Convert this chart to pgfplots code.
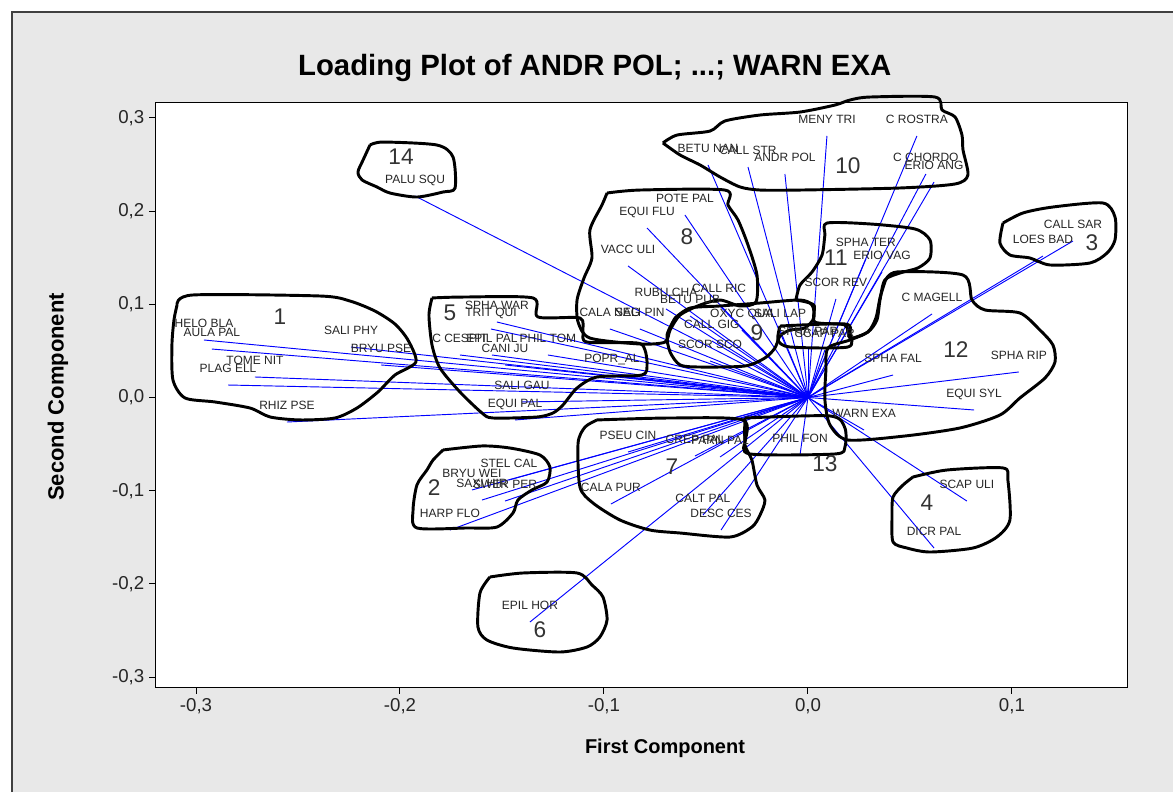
\documentclass[border=0pt]{standalone}
\usepackage{pgfplots}
\pgfplotsset{compat=1.18}
\usepackage{pgfplotstable}
\usepackage{fontspec}
\setmainfont{Liberation Sans}
\definecolor{figbg}{RGB}{232,232,232}
\definecolor{vecblue}{RGB}{0,0,255}
\pgfplotsset{outline/.style={black, solid, line width=2.2pt, smooth, tension=0.45, line join=round, mark=none}}
\pgfplotstableread[col sep=comma]{
x,y,label
-0.2961,0.0617,HELO BLA
-0.2922,0.0520,AULA PAL
-0.2240,0.0542,SALI PHY
-0.2093,0.0349,BRYU PSE
-0.2711,0.0220,TOME NIT
-0.2843,0.0134,PLAG ELL
-0.2554,-0.0263,RHIZ PSE
-0.1525,0.0810,SPHA WAR
-0.1554,0.0735,TRIT QUI
-0.1706,0.0456,C CESPIT
-0.1549,0.0456,EPIL PAL
-0.1275,0.0456,PHIL TOM
-0.1485,0.0349,CANI JU
-0.0961,0.0241,POPR\_AL
-0.1402,-0.0048,SALI GAU
-0.1436,-0.0241,EQUI PAL
-0.0603,0.1958,POTE PAL
-0.0789,0.1819,EQUI FLU
-0.0882,0.1411,VACC ULI
-0.0696,0.0950,RUBU CHA
-0.0436,0.0992,CALL RIC
-0.0578,0.0874,BETU PUB
-0.0971,0.0735,CALA NEG
-0.0824,0.0735,SALI PIN
-0.0471,0.0606,CALL GIG
-0.0480,0.0392,SCOR SCO
-0.0324,0.0724,OXYC QUA
-0.0137,0.0724,SALI LAP
0.0000,0.0531,SPHA PAP
0.0083,0.0510,SCAP PAR
-0.0490,0.2495,BETU NAN
-0.0294,0.2473,CALL STR
-0.0113,0.2398,ANDR POL
0.0093,0.2806,MENY TRI
0.0534,0.2806,C ROSTRA
0.0578,0.2398,C CHORDO
0.0618,0.2312,ERIO ANG
0.1299,0.1679,CALL SAR
0.1152,0.1518,LOES BAD
0.0284,0.1486,SPHA TER
0.0363,0.1347,ERIO VAG
0.0137,0.1057,SCOR REV
0.0608,0.0896,C MAGELL
0.0417,0.0241,SPHA FAL
0.1034,0.0274,SPHA RIP
0.0814,-0.0134,EQUI SYL
0.0275,-0.0349,WARN EXA
-0.1466,-0.0885,STEL CAL
-0.1647,-0.0992,BRYU WEI
-0.1598,-0.1100,SAXI HIR
-0.1485,-0.1111,SWER PER
-0.1755,-0.1422,HARP FLO
-0.0882,-0.0585,PSEU CIN
-0.0554,-0.0628,CREP PAL
-0.0431,-0.0638,PARN PAL
-0.0039,-0.0617,PHIL FON
-0.0966,-0.1143,CALA PUR
-0.0515,-0.1261,CALT PAL
-0.0426,-0.1422,DESC CES
0.0779,-0.1111,SCAP ULI
0.0618,-0.1615,DICR PAL
-0.1926,0.2162,PALU SQU
-0.1363,-0.2409,EPIL HOR
}\loadings
\pgfplotstableread[col sep=comma]{
x,y,n
-0.2588,0.0864,1
-0.1833,-0.0971,2
0.1392,0.1658,3
0.0583,-0.1132,4
-0.1755,0.0907,5
-0.1314,-0.2495,6
-0.0667,-0.0746,7
-0.0593,0.1722,8
-0.0250,0.0692,9
0.0196,0.2484,10
0.0137,0.1497,11
0.0725,0.0510,12
0.0083,-0.0714,13
-0.1995,0.2580,14
}\groupnums
\begin{document}
\begin{tikzpicture}
\path[use as bounding box] (0,0) rectangle (879.75pt,594pt);
\fill[white] (0,0) rectangle (879.75pt,594pt);
\fill[figbg] (9pt,0) rectangle (879.75pt,585pt);
\draw[black!75, line width=1pt] (9pt,0) -- (9pt,585pt) -- (879.75pt,585pt);
\node[font=\bfseries\fontsize{22}{22}\selectfont] at (446pt,543pt) {Loading Plot of ANDR POL; ...; WARN EXA};
\node[font=\bfseries\fontsize{15}{15}\selectfont] at (498.75pt,33pt) {First Component};
\node[font=\bfseries\fontsize{16.5}{16.5}\selectfont, rotate=90] at (43.5pt,296.25pt) {Second Component};
\begin{axis}[
  at={(116.25pt,78pt)}, anchor=south west, scale only axis,
  width=729pt, height=438.75pt,
  xmin=-0.3201, xmax=0.1564, ymin=-0.3117, ymax=0.3160,
  xtick={-0.3,-0.2,-0.1,0,0.1}, ytick={-0.3,-0.2,-0.1,0,0.1,0.2,0.3},
  xtick pos=bottom, ytick pos=left, tick align=outside,
  major tick length=4.5pt,
  tick style={black, line width=0.75pt},
  axis line style={black, line width=0.75pt},
  axis background/.style={fill=white},
  scaled ticks=false,
  /pgf/number format/fixed, /pgf/number format/fixed zerofill,
  /pgf/number format/precision=1, /pgf/number format/use comma,
  /pgf/number format/assume math mode=true,
  tick label style={font=\fontsize{14}{14}\selectfont, text=black!85},
  clip=false,
]
\addplot[vecblue, line width=0.7pt, quiver={u=\thisrow{x}, v=\thisrow{y}}] table[x expr=0, y expr=0] {\loadings};
% group outlines
% 1
\addplot[outline] coordinates {(-0.3093,0.0992) (-0.3015,0.1100) (-0.2392,0.1089) (-0.2245,0.1035) (-0.2123,0.0928) (-0.2025,0.0789) (-0.1961,0.0617) (-0.1922,0.0381) (-0.2025,0.0241) (-0.2108,0.0059) (-0.2211,-0.0113) (-0.2319,-0.0220) (-0.2490,-0.0241) (-0.2637,-0.0209) (-0.2735,-0.0113) (-0.2907,-0.0048) (-0.3054,-0.0005) (-0.3113,0.0188) (-0.3118,0.0563) (-0.3108,0.0832) (-0.3093,0.0992)};
% 5
\addplot[outline] coordinates {(-0.1843,0.1068) (-0.1691,0.1078) (-0.1348,0.1068) (-0.1324,0.0864) (-0.1118,0.0853) (-0.1103,0.0703) (-0.1083,0.0595) (-0.0838,0.0585) (-0.0799,0.0510) (-0.0789,0.0349) (-0.0814,0.0241) (-0.1034,0.0220) (-0.1132,0.0102) (-0.1201,-0.0080) (-0.1250,-0.0166) (-0.1328,-0.0209) (-0.1544,-0.0220) (-0.1598,-0.0166) (-0.1706,0.0059) (-0.1804,0.0317) (-0.1843,0.0563) (-0.1858,0.0885) (-0.1843,0.1068)};
% 8
\addplot[outline] coordinates {(-0.0985,0.2194) (-0.0824,0.2226) (-0.0407,0.2226) (-0.0392,0.2065) (-0.0343,0.1905) (-0.0294,0.1636) (-0.0250,0.1314) (-0.0255,0.1025) (-0.0333,0.0982) (-0.0431,0.1046) (-0.0529,0.0992) (-0.0627,0.0885) (-0.0676,0.0724) (-0.0701,0.0595) (-0.0824,0.0574) (-0.1069,0.0638) (-0.1127,0.0810) (-0.1132,0.1046) (-0.1098,0.1282) (-0.1059,0.1497) (-0.1069,0.1797) (-0.1010,0.2065) (-0.0985,0.2194)};
% 9
\addplot[outline] coordinates {(-0.0652,0.0853) (-0.0578,0.0960) (-0.0431,0.0982) (-0.0235,0.1014) (-0.0039,0.1046) (0.0020,0.0992) (0.0029,0.0853) (-0.0015,0.0746) (-0.0088,0.0724) (-0.0137,0.0660) (-0.0162,0.0531) (-0.0211,0.0424) (-0.0309,0.0338) (-0.0529,0.0327) (-0.0627,0.0349) (-0.0676,0.0488) (-0.0691,0.0671) (-0.0652,0.0853)};
% 9b box
\addplot[outline] coordinates {(-0.0137,0.0767) (0.0181,0.0789) (0.0206,0.0692) (0.0196,0.0542) (-0.0088,0.0542) (-0.0147,0.0617) (-0.0137,0.0767)};
% 11
\addplot[outline] coordinates {(-0.0059,0.1046) (-0.0039,0.1207) (0.0020,0.1347) (0.0069,0.1529) (0.0083,0.1744) (0.0093,0.1872) (0.0304,0.1862) (0.0525,0.1808) (0.0598,0.1690) (0.0598,0.1497) (0.0539,0.1390) (0.0451,0.1336) (0.0377,0.1261) (0.0353,0.1046) (0.0338,0.0832) (0.0294,0.0703) (0.0206,0.0638) (0.0181,0.0778) (0.0034,0.0810) (0.0029,0.0992) (-0.0059,0.1046)};
% 12
\addplot[outline] coordinates {(0.0377,0.1239) (0.0436,0.1347) (0.0760,0.1314) (0.0804,0.1046) (0.0868,0.0939) (0.1039,0.0907) (0.1137,0.0724) (0.1201,0.0563) (0.1211,0.0381) (0.1162,0.0209) (0.1039,-0.0005) (0.0941,-0.0188) (0.0745,-0.0327) (0.0475,-0.0413) (0.0196,-0.0456) (0.0108,-0.0295) (0.0083,-0.0027) (0.0088,0.0295) (0.0098,0.0531) (0.0206,0.0617) (0.0294,0.0703) (0.0333,0.0853) (0.0353,0.1068) (0.0377,0.1239)};
% 13
\addplot[outline] coordinates {(-0.0309,-0.0220) (0.0108,-0.0198) (0.0181,-0.0327) (0.0181,-0.0531) (0.0132,-0.0606) (-0.0284,-0.0606) (-0.0309,-0.0456) (-0.0309,-0.0220)};
% 7
\addplot[outline] coordinates {(-0.1034,-0.0241) (-0.0676,-0.0220) (-0.0319,-0.0241) (-0.0309,-0.0510) (-0.0275,-0.0671) (-0.0250,-0.0939) (-0.0211,-0.1100) (-0.0235,-0.1261) (-0.0275,-0.1390) (-0.0382,-0.1497) (-0.0627,-0.1454) (-0.0775,-0.1422) (-0.0922,-0.1314) (-0.1054,-0.1132) (-0.1118,-0.0960) (-0.1127,-0.0488) (-0.1093,-0.0317) (-0.1034,-0.0241)};
% 2
\addplot[outline] coordinates {(-0.1789,-0.0563) (-0.1598,-0.0520) (-0.1461,-0.0542) (-0.1314,-0.0617) (-0.1265,-0.0746) (-0.1279,-0.0907) (-0.1353,-0.0992) (-0.1422,-0.1100) (-0.1446,-0.1239) (-0.1525,-0.1390) (-0.1672,-0.1400) (-0.1917,-0.1400) (-0.1936,-0.1207) (-0.1917,-0.0939) (-0.1868,-0.0778) (-0.1838,-0.0671) (-0.1789,-0.0563)};
% 4
\addplot[outline] coordinates {(0.0515,-0.0853) (0.0681,-0.0778) (0.0956,-0.0756) (0.0980,-0.0885) (0.0990,-0.1314) (0.0926,-0.1497) (0.0809,-0.1615) (0.0598,-0.1658) (0.0485,-0.1615) (0.0417,-0.1550) (0.0412,-0.1282) (0.0417,-0.1068) (0.0466,-0.0939) (0.0515,-0.0853)};
% 6
\addplot[outline] coordinates {(-0.1559,-0.1926) (-0.1397,-0.1883) (-0.1132,-0.1883) (-0.1059,-0.2012) (-0.1005,-0.2141) (-0.0985,-0.2387) (-0.1020,-0.2570) (-0.1083,-0.2677) (-0.1216,-0.2731) (-0.1446,-0.2688) (-0.1574,-0.2602) (-0.1618,-0.2462) (-0.1608,-0.2098) (-0.1559,-0.1926)};
% 14
\addplot[outline] coordinates {(-0.2147,0.2709) (-0.2083,0.2741) (-0.1819,0.2709) (-0.1740,0.2580) (-0.1730,0.2248) (-0.1789,0.2205) (-0.1917,0.2151) (-0.2049,0.2194) (-0.2113,0.2259) (-0.2186,0.2334) (-0.2206,0.2420) (-0.2181,0.2548) (-0.2147,0.2709)};
% 3
\addplot[outline] coordinates {(0.0956,0.1872) (0.1054,0.1980) (0.1201,0.2044) (0.1446,0.2087) (0.1505,0.1937) (0.1505,0.1690) (0.1466,0.1550) (0.1382,0.1443) (0.1186,0.1422) (0.1088,0.1497) (0.0990,0.1529) (0.0941,0.1658) (0.0956,0.1872)};
% 10
\addplot[outline] coordinates {(-0.0711,0.2731) (-0.0642,0.2816) (-0.0480,0.2859) (-0.0407,0.2967) (-0.0235,0.3031) (-0.0039,0.3063) (0.0132,0.3138) (0.0206,0.3192) (0.0304,0.3224) (0.0623,0.3224) (0.0657,0.3085) (0.0721,0.3010) (0.0755,0.2816) (0.0760,0.2656) (0.0784,0.2387) (0.0721,0.2291) (0.0451,0.2248) (-0.0039,0.2226) (-0.0235,0.2226) (-0.0333,0.2259) (-0.0431,0.2366) (-0.0529,0.2495) (-0.0627,0.2602) (-0.0711,0.2731)};
% variable labels
\addplot[only marks, mark=none, nodes near coords, point meta=explicit symbolic,
  nodes near coords style={font=\fontsize{9}{9}\selectfont, text=black!85, anchor=base, yshift=9.5pt, inner sep=0pt}]
  table[x=x, y=y, meta=label] {\loadings};
% group numbers
\addplot[only marks, mark=none, nodes near coords, point meta=explicit symbolic,
  nodes near coords style={font=\fontsize{17}{17}\selectfont, text=black!80, anchor=center, inner sep=0pt}]
  table[x=x, y=y, meta=n] {\groupnums};
\end{axis}
\end{tikzpicture}
\end{document}
